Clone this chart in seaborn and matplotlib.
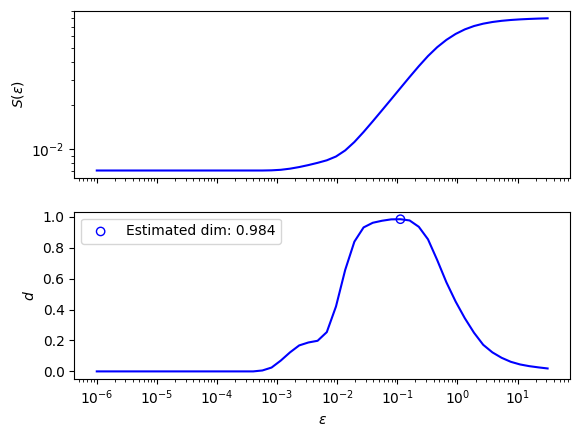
import numpy as np
import pandas as pd
import matplotlib
matplotlib.use("Agg")
import matplotlib.pyplot as plt
import seaborn as sns

# scale grid (log spaced, 1e-6 .. ~31.6)
eps = [1.000e-06, 1.422e-06, 2.024e-06, 2.878e-06, 4.095e-06, 5.825e-06, 8.286e-06,
       1.179e-05, 1.677e-05, 2.385e-05, 3.393e-05, 4.827e-05, 6.866e-05, 9.767e-05,
       1.389e-04, 1.976e-04, 2.812e-04, 4.000e-04, 5.690e-04, 8.094e-04, 1.151e-03,
       1.638e-03, 2.330e-03, 3.314e-03, 4.715e-03, 6.707e-03, 9.541e-03, 1.357e-02,
       1.931e-02, 2.747e-02, 3.907e-02, 5.558e-02, 7.906e-02, 1.125e-01, 1.600e-01,
       2.276e-01, 3.237e-01, 4.605e-01, 6.551e-01, 9.319e-01, 1.326, 1.886, 2.683,
       3.816, 5.429, 7.723, 10.99, 15.63, 22.23, 31.62]

S = [0.00710] * 18 + [
    0.00710, 0.00712, 0.00718, 0.00731, 0.00750, 0.00774, 0.00802, 0.00835, 0.00887,
    0.00977, 0.01117, 0.01310, 0.01553, 0.01849, 0.02204, 0.02631, 0.03138, 0.03726,
    0.04379, 0.05040, 0.05662, 0.06220, 0.06688, 0.07055, 0.07325, 0.07522, 0.07665,
    0.07768, 0.07843, 0.07899, 0.07943, 0.07976]

d = [0.0] * 18 + [
    0.006, 0.025, 0.070, 0.123, 0.168, 0.187, 0.198, 0.254, 0.420, 0.656, 0.839,
    0.931, 0.961, 0.974, 0.983, 0.984, 0.976, 0.935, 0.854, 0.720, 0.576, 0.452,
    0.344, 0.250, 0.172, 0.123, 0.088, 0.062, 0.045, 0.034, 0.026, 0.019]

df = pd.DataFrame({"eps": eps, "S": S, "d": d})
peak = df.loc[df["d"].idxmax()]

fig, (ax1, ax2) = plt.subplots(2, 1, sharex=True, figsize=(5.8, 4.37), dpi=100)
fig.subplots_adjust(left=0.128, right=0.983, top=0.9755, bottom=0.1327, hspace=0.2)

sns.lineplot(data=df, x="eps", y="S", color="blue", ax=ax1)
ax1.set_xscale("log")
ax1.set_yscale("log")
ax1.set_ylabel(r"$S(\varepsilon)$")
ax1.set_xlabel("")

sns.lineplot(data=df, x="eps", y="d", color="blue", ax=ax2)
sns.scatterplot(x=[peak["eps"]], y=[peak["d"]], marker="o", s=36,
                facecolors="none", edgecolor="blue", linewidth=1,
                label=f"Estimated dim: {peak['d']:.3f}", ax=ax2)
ax2.set_xscale("log")
ax2.set_ylabel(r"$d$")
ax2.set_xlabel(r"$\varepsilon$")
ax2.legend(loc="upper left")

fig.savefig("out.png", dpi=100)
